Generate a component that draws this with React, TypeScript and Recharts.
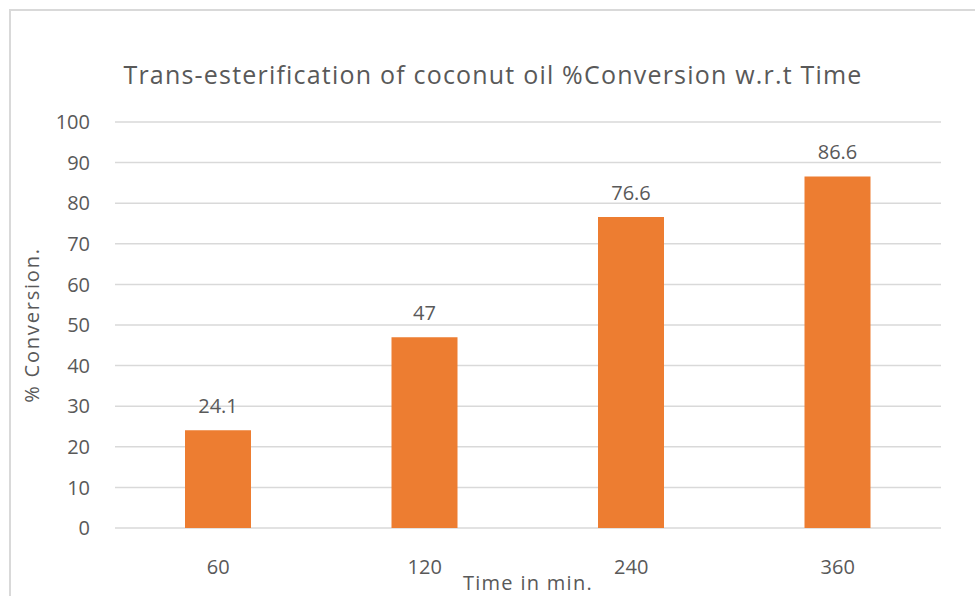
import { BarChart, Bar, XAxis, YAxis, CartesianGrid, LabelList, Label } from "recharts";

const times = ["60", "120", "240", "360"];
const conversion = [24.1, 47, 76.6, 86.6];
const yTicks = [0, 10, 20, 30, 40, 50, 60, 70, 80, 90, 100];

const data = times.map((t, i) => ({ time: t, conversion: conversion[i] }));

const FONT = "'Open Sans', sans-serif";
const TEXT = "#595959";

export default function App() {
  return (
    <div
      style={{
        position: "absolute",
        left: 0,
        top: 0,
        width: 975,
        height: 596,
        overflow: "hidden",
        background: "#fff",
        fontFamily: FONT,
      }}
    >
      {/* chart frame runs off the right and bottom edges */}
      <div
        style={{
          position: "absolute",
          left: 9,
          top: 9,
          width: 1000,
          height: 700,
          border: "2px solid #d9d9d9",
        }}
      />
      <div
        style={{
          position: "absolute",
          left: 0,
          width: 986,
          top: 57,
          textAlign: "center",
          fontSize: 25,
          letterSpacing: 1.2,
          color: TEXT,
          lineHeight: "34px",
        }}
      >
        Trans-esterification of coconut oil %Conversion w.r.t Time
      </div>
      <div style={{ position: "absolute", left: 0, top: 0 }}>
        <BarChart
          width={975}
          height={596}
          data={data}
          margin={{ top: 122, right: 34, left: 0, bottom: 0 }}
        >
          <CartesianGrid stroke="#d9d9d9" strokeWidth={1.5} vertical={false} />
          <XAxis
            dataKey="time"
            height={68}
            tickLine={false}
            axisLine={false}
            tickSize={0}
            tickMargin={32}
            tick={{ fill: TEXT, fontSize: 20, fontFamily: FONT }}
          >
            <Label
              value="Time in min."
              position="insideBottom"
              offset={6}
              style={{ fill: TEXT, fontSize: 20, fontFamily: FONT, letterSpacing: 1.3 }}
            />
          </XAxis>
          <YAxis
            width={115}
            domain={[0, 100]}
            ticks={yTicks}
            interval={0}
            tickLine={false}
            axisLine={false}
            tickSize={0}
            tickMargin={25}
            tick={{ fill: TEXT, fontSize: 20, fontFamily: FONT }}
            label={({ viewBox }: any) => (
              <text
                x={31}
                y={viewBox.y + viewBox.height / 2}
                transform={`rotate(-90, 31, ${viewBox.y + viewBox.height / 2})`}
                textAnchor="middle"
                dominantBaseline="central"
                fill={TEXT}
                fontSize={20}
                letterSpacing={1.8}
                fontFamily={FONT}
              >
                % Conversion.
              </text>
            )}
          />
          <Bar dataKey="conversion" fill="#ED7D31" barSize={66} isAnimationActive={false}>
            <LabelList
              dataKey="conversion"
              position="top"
              offset={17}
              style={{ fill: TEXT, fontSize: 20, fontFamily: FONT }}
            />
          </Bar>
        </BarChart>
      </div>
    </div>
  );
}
